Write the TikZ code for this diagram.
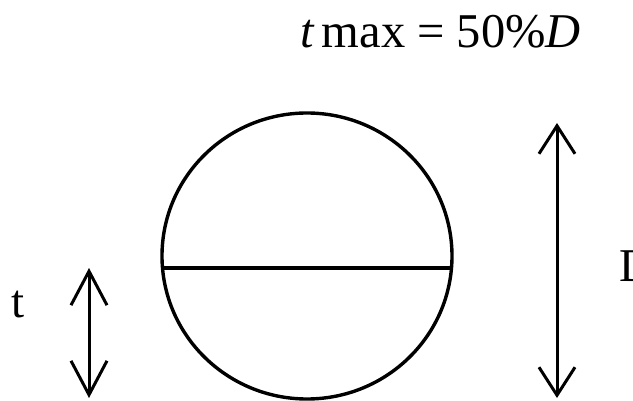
\documentclass[tikz,border=0pt]{standalone}
\usepackage{fontspec}
\setmainfont{Liberation Serif}
\usetikzlibrary{arrows.meta}
\begin{document}
\begin{tikzpicture}[x=1pt,y=-1pt,
  lbl/.style={font=\fontsize{47}{52}\selectfont, inner sep=0pt, anchor=base west},
  shape line/.style={line width=3.4pt},
  dimarrow/.style={line width=3pt, {Straight Barb[length=#1, width=36pt]}-{Straight Barb[length=#1, width=36pt]}}]
\useasboundingbox (0,0) rectangle (633,401);
\clip (0,0) rectangle (633,401);
% title
\node[lbl, font=\fontsize{48.5}{52}\selectfont] (title) at (300,48) {\itshape t\upshape\,max = 50\%\itshape D};
% circle with chord
\draw[shape line] (307,256) ellipse [x radius=145, y radius=143];
\coordinate (cl) at (162.5,268);
\coordinate (cr) at (451.5,268);
\draw[shape line] (cl) -- (cr);
% t dimension
\coordinate (ttop) at (89,268);
\coordinate (tbot) at (89,398);
\draw[dimarrow=34pt] (ttop) -- (tbot);
\node[lbl] (tlabel) at (11,318) {t};
% D dimension
\coordinate (dtop) at (557,123);
\coordinate (dbot) at (557,398);
\draw[dimarrow=28pt] (dtop) -- (dbot);
\node[lbl] (dlabel) at (619,282) {D};
\end{tikzpicture}
\end{document}
